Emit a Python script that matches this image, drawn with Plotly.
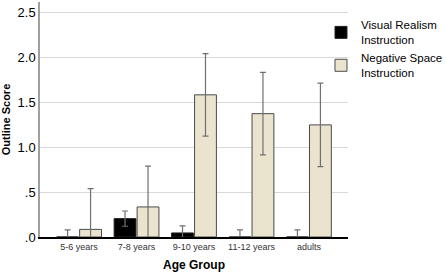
import plotly.graph_objects as go

categories = ["5-6 years", "7-8 years", "9-10 years", "11-12 years", "adults"]
visual_realism = [0.0, 0.205, 0.045, 0.0, 0.0]
visual_realism_err = [0.08, 0.085, 0.08, 0.08, 0.08]
negative_space = [0.085, 0.335, 1.585, 1.375, 1.25]
negative_space_err = [0.455, 0.455, 0.46, 0.46, 0.465]
y_tick_vals = [0, 0.5, 1.0, 1.5, 2.0, 2.5]
y_tick_text = [".0", ".5", "1.0", "1.5", "2.0", "2.5"]

FONT = "Arial, Liberation Sans, sans-serif"

fig = go.Figure()
fig.add_trace(go.Bar(
    name="Visual Realism<br>Instruction",
    x=categories, y=visual_realism,
    marker=dict(color="#000000", line=dict(color="#222222", width=1)),
    error_y=dict(type="data", array=visual_realism_err, color="#707070", thickness=1.2, width=3),
))
fig.add_trace(go.Bar(
    name="Negative Space<br>Instruction",
    x=categories, y=negative_space,
    marker=dict(color="#EAE4CF", line=dict(color="#4a4a4a", width=1)),
    error_y=dict(type="data", array=negative_space_err, color="#707070", thickness=1.2, width=3),
))

fig.update_layout(
    width=447, height=274,
    margin=dict(l=40, r=0, t=2, b=37, autoexpand=False),
    paper_bgcolor="white", plot_bgcolor="white",
    barmode="group", bargap=0.2, bargroupgap=0.05,
    font=dict(family=FONT, color="#000000"),
    showlegend=True,
    legend=dict(
        x=0.6904, xanchor="left", y=0.962, yanchor="top",
        font=dict(size=11.5, family=FONT, color="#000000"),
        itemwidth=30, tracegroupgap=0, bgcolor="rgba(0,0,0,0)",
        traceorder="normal",
    ),
    xaxis=dict(
        domain=[0, 308 / 407],
        range=[-0.68, 4.68],
        showgrid=False, showline=True, linecolor="#000000", linewidth=2,
        ticks="", tickfont=dict(size=9, color="#333333", family=FONT),
        title=dict(text="<b>Age Group</b>", font=dict(size=12, family=FONT), standoff=10),
        fixedrange=True,
    ),
    yaxis=dict(
        range=[0, 2.62],
        tickvals=y_tick_vals, ticktext=y_tick_text,
        showgrid=True, gridcolor="#d9d9d9", gridwidth=1.2,
        showline=True, linecolor="#a0a0a0", linewidth=1.5,
        zeroline=False,
        ticks="", tickfont=dict(size=13, color="#000000", family=FONT),
        title=dict(text="<b>Outline Score</b>", font=dict(size=11, family=FONT), standoff=6),
        fixedrange=True,
    ),
)

fig.write_html("out.html", config={"displayModeBar": False},
               post_script="document.body.style.margin='0';document.body.style.overflow='hidden';")
